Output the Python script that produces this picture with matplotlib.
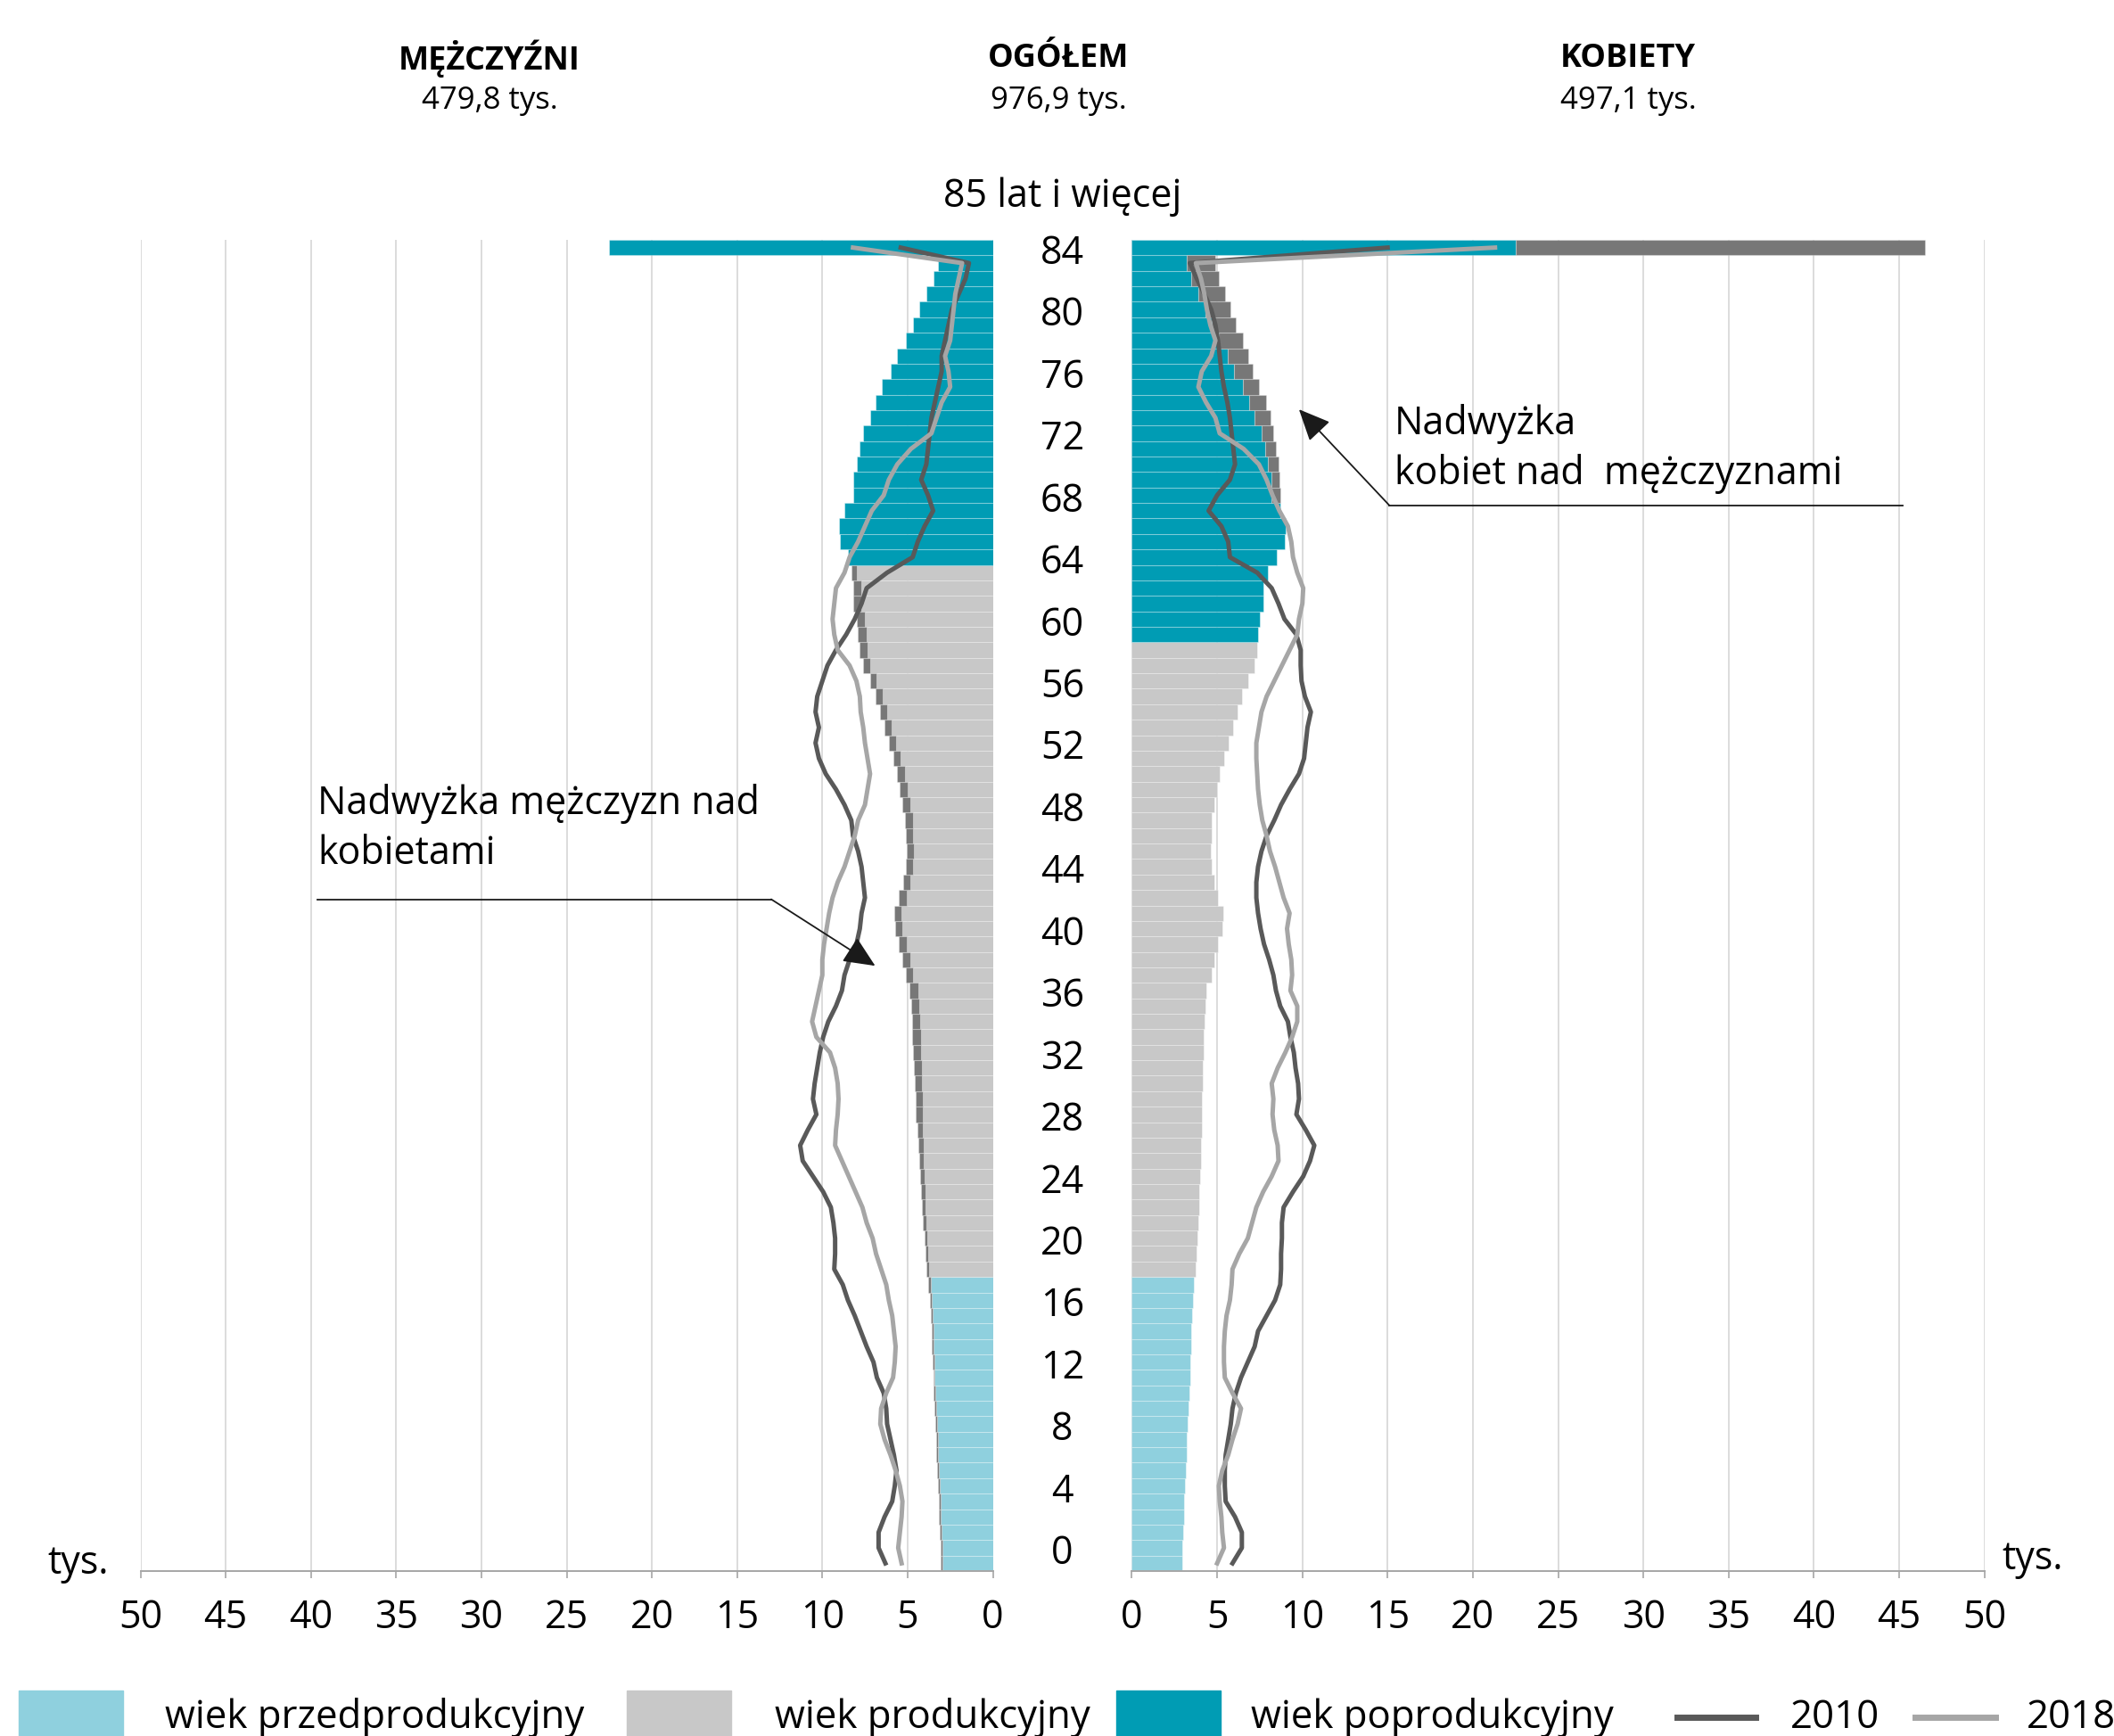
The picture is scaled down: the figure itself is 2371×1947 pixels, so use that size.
import numpy as np
import matplotlib
matplotlib.use('Agg')
import matplotlib.pyplot as plt
import matplotlib.transforms as mtrans
from matplotlib.patches import Rectangle
from matplotlib.lines import Line2D

plt.rcParams['font.family'] = ['Open Sans', 'DejaVu Sans']

# wiek 0..84, ostatni wiersz = 85 lat i więcej
ages = np.arange(86)

# ludność w 2018 r. (tys.)
men = [3.05, 3.08, 3.12, 3.15, 3.18, 3.22, 3.26, 3.30, 3.34, 3.38,
       3.42, 3.46, 3.50, 3.54, 3.57, 3.60, 3.65, 3.70, 3.80, 3.88,
       3.95, 4.02, 4.08, 4.14, 4.20, 4.25, 4.30, 4.35, 4.42, 4.50,
       4.55, 4.60, 4.65, 4.70, 4.72, 4.75, 4.80, 4.90, 5.10, 5.30,
       5.50, 5.75, 5.80, 5.50, 5.25, 5.10, 5.05, 5.10, 5.15, 5.30,
       5.45, 5.60, 5.85, 6.10, 6.35, 6.60, 6.90, 7.20, 7.60, 7.80,
       7.90, 8.00, 8.20, 8.20, 8.30, 8.50, 8.95, 9.00, 8.70, 8.20,
       8.20, 8.00, 7.80, 7.60, 7.20, 6.90, 6.50, 6.00, 5.60, 5.10,
       4.70, 4.30, 3.90, 3.50, 3.20, 22.5]
women = [2.95, 2.98, 3.02, 3.05, 3.08, 3.12, 3.16, 3.20, 3.24, 3.28,
         3.32, 3.36, 3.40, 3.43, 3.47, 3.50, 3.55, 3.60, 3.65, 3.72,
         3.80, 3.86, 3.90, 3.94, 3.97, 4.00, 4.03, 4.05, 4.08, 4.10,
         4.12, 4.15, 4.18, 4.20, 4.20, 4.25, 4.32, 4.37, 4.67, 4.85,
         5.07, 5.33, 5.37, 5.07, 4.85, 4.70, 4.63, 4.67, 4.70, 4.85,
         5.00, 5.15, 5.40, 5.70, 5.95, 6.20, 6.45, 6.80, 7.20, 7.35,
         7.40, 7.50, 7.70, 7.70, 8.00, 8.50, 8.95, 9.00, 8.70, 8.70,
         8.65, 8.60, 8.45, 8.30, 8.15, 7.85, 7.45, 7.10, 6.80, 6.50,
         6.10, 5.80, 5.45, 5.10, 4.90, 46.5]

# linie 2010 i 2018
men_2010 = [6.30, 6.70, 6.70, 6.35, 5.90, 5.75, 5.65, 5.80, 6.00, 6.20,
            6.25, 6.40, 6.80, 7.00, 7.40, 7.75, 8.10, 8.50, 8.80, 9.30,
            9.25, 9.25, 9.35, 9.50, 9.95, 10.55, 11.15, 11.30, 10.85, 10.35,
            10.55, 10.45, 10.30, 10.15, 9.95, 9.65, 9.20, 8.85, 8.70, 8.40,
            8.00, 7.80, 7.70, 7.50, 7.60, 7.70, 7.90, 8.20, 8.30, 8.70,
            9.20, 9.80, 10.20, 10.40, 10.20, 10.40, 10.30, 10.00, 9.70, 9.20,
            8.60, 8.10, 7.70, 7.40, 6.20, 4.70, 4.40, 4.00, 3.50, 3.80,
            4.20, 3.90, 3.80, 3.70, 3.60, 3.40, 3.20, 3.00, 3.00, 2.80,
            2.60, 2.40, 2.00, 1.60, 1.40, 5.40]
men_2018 = [5.35, 5.55, 5.45, 5.35, 5.30, 5.45, 5.70, 6.00, 6.35, 6.60,
            6.55, 6.25, 5.85, 5.75, 5.70, 5.80, 5.90, 6.10, 6.25, 6.55,
            6.85, 7.05, 7.40, 7.65, 8.05, 8.45, 8.85, 9.25, 9.20, 9.10,
            9.05, 9.10, 9.25, 9.55, 10.35, 10.60, 10.40, 10.20, 10.00, 10.00,
            9.90, 9.75, 9.60, 9.40, 9.10, 8.70, 8.40, 8.10, 7.90, 7.50,
            7.35, 7.20, 7.35, 7.50, 7.60, 7.75, 7.80, 8.00, 8.40, 9.10,
            9.30, 9.40, 9.30, 9.20, 8.70, 8.40, 7.90, 7.50, 7.10, 6.40,
            6.10, 5.60, 4.80, 3.60, 3.30, 3.00, 2.50, 2.60, 2.80, 2.50,
            2.40, 2.30, 2.20, 2.00, 1.80, 8.20]
women_2010 = [5.90, 6.45, 6.45, 6.05, 5.50, 5.45, 5.45, 5.50, 5.65, 5.80,
              5.90, 6.10, 6.40, 6.80, 7.20, 7.40, 7.90, 8.40, 8.70, 8.75,
              8.75, 8.80, 8.80, 8.90, 9.45, 10.05, 10.45, 10.70, 10.20, 9.65,
              9.80, 9.75, 9.60, 9.50, 9.30, 9.15, 8.70, 8.45, 8.30, 8.05,
              7.75, 7.55, 7.40, 7.30, 7.30, 7.40, 7.60, 7.90, 8.35, 8.75,
              9.25, 9.80, 10.10, 10.20, 10.30, 10.50, 10.15, 9.95, 9.90, 9.90,
              9.65, 8.95, 8.60, 8.20, 7.35, 5.75, 5.65, 5.25, 4.50, 5.00,
              5.75, 6.05, 5.95, 5.85, 5.75, 5.60, 5.40, 5.25, 5.15, 5.05,
              4.90, 4.65, 4.25, 3.80, 3.40, 15.0]
women_2018 = [5.00, 5.40, 5.30, 5.25, 5.15, 5.10, 5.30, 5.65, 5.90, 6.20,
              6.40, 5.90, 5.45, 5.40, 5.40, 5.45, 5.55, 5.75, 5.85, 5.90,
              6.30, 6.80, 7.05, 7.30, 7.70, 8.20, 8.60, 8.55, 8.35, 8.25,
              8.30, 8.20, 8.55, 9.00, 9.40, 9.70, 9.70, 9.30, 9.40, 9.35,
              9.20, 9.10, 9.25, 8.90, 8.65, 8.40, 8.10, 7.90, 7.65, 7.50,
              7.40, 7.35, 7.30, 7.30, 7.45, 7.60, 7.90, 8.35, 8.80, 9.25,
              9.70, 9.80, 10.00, 10.05, 9.70, 9.45, 9.35, 9.15, 8.65, 8.25,
              7.90, 7.45, 6.55, 5.15, 4.90, 4.35, 3.90, 4.10, 4.65, 4.90,
              4.60, 4.40, 4.25, 4.05, 3.75, 21.3]

# granice grup wieku (pierwszy wiek produkcyjny, pierwszy poprodukcyjny)
prod_start = 19
post_start_men = 65
post_start_women = 60

age_labels = list(range(0, 85, 4))
ticks = list(range(0, 51, 5))

c_pre = '#8FD0DE'
c_prod = '#C8C8C8'
c_post = '#009CB4'
c_exc = '#777777'
c_2010 = '#595959'
c_2018 = '#A6A6A6'

men = np.array(men)
women = np.array(women)
common = np.minimum(men, women)


def group_colors(post_start):
    return [c_pre if a < prod_start else (c_prod if a < post_start else c_post) for a in ages]


W, H = 2371, 1947
fig = plt.figure(figsize=(W / 100, H / 100), dpi=100)
bottom = (H - 1762) / H
height = (1762 - 269) / H
axL = fig.add_axes([157.5 / W, bottom, 956 / W, height])
axR = fig.add_axes([1269.5 / W, bottom, 956 / W, height])

sep = (1, 1, 1, 0.25)
axL.barh(ages, common, height=1.0, color=group_colors(post_start_men), edgecolor=sep, linewidth=0.8)
axL.barh(ages, men - common, left=common, height=1.0, color=c_exc, edgecolor=sep, linewidth=0.8)
axR.barh(ages, common, height=1.0, color=group_colors(post_start_women), edgecolor=sep, linewidth=0.8)
axR.barh(ages, women - common, left=common, height=1.0, color=c_exc, edgecolor=sep, linewidth=0.8)

lw_line = 3.6
axL.plot(men_2010, ages, color=c_2010, lw=lw_line, zorder=4)
axL.plot(men_2018, ages, color=c_2018, lw=lw_line, zorder=4)
axR.plot(women_2010, ages, color=c_2010, lw=lw_line, zorder=4)
axR.plot(women_2018, ages, color=c_2018, lw=lw_line, zorder=4)

for ax in (axL, axR):
    ax.set_ylim(-0.5, 85.5)
    ax.set_yticks([])
    ax.set_xticks(ticks)
    ax.grid(axis='x', color='#D9D9D9', lw=1.3)
    ax.set_axisbelow(True)
    for s in ('top', 'left', 'right'):
        ax.spines[s].set_visible(False)
    ax.spines['bottom'].set_color('#A6A6A6')
    ax.spines['bottom'].set_linewidth(1.4)
    ax.tick_params(axis='x', length=6, width=1.2, color='#A6A6A6', labelsize=31, pad=16)
axL.set_xlim(50, 0)
axR.set_xlim(0, 50)

# etykiety wieku na środku
mid = 1191.5 / W
trans = mtrans.blended_transform_factory(fig.transFigure, axL.transData)
for k in age_labels:
    axL.text(mid, k + 0.6, str(k), transform=trans, ha='center', va='center',
             fontsize=31, clip_on=False)
fig.text(mid, 1 - 221 / H, '85 lat i więcej', ha='center', va='center', fontsize=31)

# nagłówki
for xc, title, val in [(549, 'MĘŻCZYŹNI', '479,8 tys.'),
                       (1187, 'OGÓŁEM', '976,9 tys.'),
                       (1826, 'KOBIETY', '497,1 tys.')]:
    fig.text(xc / W, 1 - 66 / H, title, ha='center', va='center', fontsize=26, fontweight='bold')
    fig.text(xc / W, 1 - 113 / H, val, ha='center', va='center', fontsize=25)

fig.text(88 / W, 1 - 1754 / H, 'tys.', ha='center', va='center', fontsize=31)
fig.text(2280 / W, 1 - 1749 / H, 'tys.', ha='center', va='center', fontsize=31)

# adnotacje
arrow = dict(arrowstyle='-|>,head_length=1.0,head_width=0.45', color='#1A1A1A',
             lw=1.3, shrinkA=0, shrinkB=0, mutation_scale=22)
axL.text(39.6, 48.4, 'Nadwyżka mężczyzn nad', ha='left', va='baseline', fontsize=31, clip_on=False)
axL.text(39.6, 45.15, 'kobietami', ha='left', va='baseline', fontsize=31, clip_on=False)
axL.plot([39.6, 13.0], [42.9, 42.9], color='#1A1A1A', lw=1.3, zorder=5)
axL.annotate('', xy=(6.9, 38.6), xytext=(13.0, 42.9), arrowprops=arrow, zorder=5)

axR.text(15.4, 72.95, 'Nadwyżka', ha='left', va='baseline', fontsize=31, clip_on=False)
axR.text(15.4, 69.7, 'kobiet nad  mężczyznami', ha='left', va='baseline', fontsize=31, clip_on=False)
axR.plot([45.2, 15.1], [68.35, 68.35], color='#1A1A1A', lw=1.3, zorder=5)
axR.annotate('', xy=(9.8, 74.55), xytext=(15.1, 68.35), arrowprops=arrow, zorder=5)

# legenda
leg_y = 1 - 1938 / H
for x0, col, label, tx in [(21, c_pre, 'wiek przedprodukcyjny', 185),
                           (703, c_prod, 'wiek produkcyjny', 869),
                           (1252, c_post, 'wiek poprodukcyjny', 1403)]:
    fig.patches.append(Rectangle((x0 / W, 0), 117 / W, (1947 - 1896) / H,
                                 transform=fig.transFigure, color=col))
    fig.text(tx / W, leg_y, label, ha='left', va='baseline', fontsize=31.5)
for x0, x1, col, label, tx in [(1881, 1969, c_2010, '2010', 2008),
                               (2148, 2238, c_2018, '2018', 2273)]:
    fig.lines.append(Line2D([x0 / W, x1 / W], [1 - 1926 / H, 1 - 1926 / H],
                            transform=fig.transFigure, color=col, lw=5))
    fig.text(tx / W, leg_y, label, ha='left', va='baseline', fontsize=31.5)

fig.savefig('out.png', dpi=100, facecolor='white')
